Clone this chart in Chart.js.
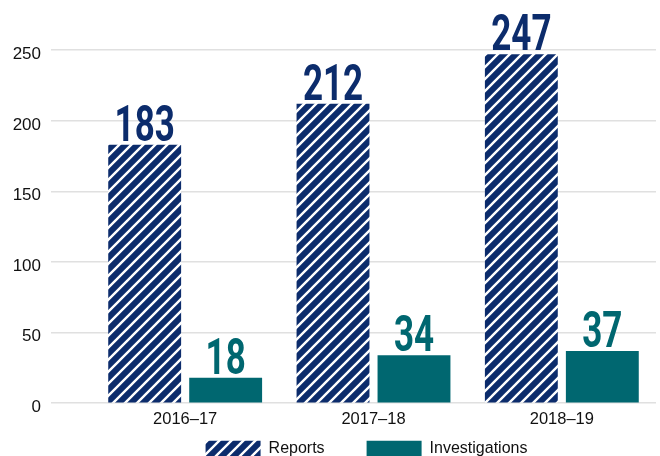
<!DOCTYPE html>
<html>
<head>
<meta charset="utf-8">
<script src="https://cdn.jsdelivr.net/npm/chart.js@4"></script>
<style>
  html, body { margin: 0; padding: 0; background: #fff; overflow: hidden; }
  #wrap { width: 660px; height: 503px; position: relative; }
</style>
</head>
<body>
<div id="wrap"><canvas id="chart"></canvas></div>
<script>
const years = ["2016–17", "2017–18", "2018–19"];
const reports = [183, 212, 247];
const investigations = [18, 34, 37];
const yTicks = [0, 50, 100, 150, 200, 250];

const NAVY = "#0c2c6c";
const TEAL = "#006770";
const FONT = "'Liberation Sans', Arial, sans-serif";
const LEGEND_PAD = 42;

function hatch() {
  const c = document.createElement("canvas");
  c.width = 12; c.height = 12;
  const g = c.getContext("2d");
  g.fillStyle = NAVY;
  g.fillRect(0, 0, 12, 12);
  g.strokeStyle = "#fff";
  g.lineWidth = 2.4;
  g.beginPath();
  g.moveTo(-1, 13); g.lineTo(13, -1);
  g.moveTo(-1, 1); g.lineTo(1, -1);
  g.moveTo(11, 13); g.lineTo(13, 11);
  g.stroke();
  return g.createPattern(c, "repeat");
}

// big condensed numbers above the bars
const valueLabels = {
  id: "valueLabels",
  afterDatasetsDraw(chart) {
    const ctx = chart.ctx;
    chart.data.datasets.forEach((ds, i) => {
      chart.getDatasetMeta(i).data.forEach((bar, j) => {
        ctx.save();
        ctx.translate(bar.x, bar.y - 4);
        ctx.scale(0.7, 1);
        ctx.font = "700 50px Roboto, sans-serif";
        ctx.fillStyle = ds.labelColor;
        ctx.textAlign = "center";
        ctx.textBaseline = "alphabetic";
        ctx.fillText(String(ds.data[j]), 0, 0);
        ctx.restore();
      });
    });
  },
};

// legend sits tight under the axis labels, the wide label padding is only for spacing
const legendNudge = {
  id: "legendNudge",
  afterLayout(chart) {
    const lg = chart.legend;
    const dy = lg.top - (chart.chartArea.bottom + 37.5 - LEGEND_PAD);
    lg.top -= dy; lg.bottom -= dy;
    lg.left -= 7; lg.right -= 7;
  },
};

new Chart(document.getElementById("chart"), {
  type: "bar",
  data: {
    labels: years,
    datasets: [
      { label: "Reports", data: reports, backgroundColor: hatch(), labelColor: NAVY },
      { label: "Investigations", data: investigations, backgroundColor: TEAL, labelColor: TEAL },
    ],
  },
  options: {
    responsive: true,
    maintainAspectRatio: false,
    animation: false,
    categoryPercentage: 0.86,
    barPercentage: 0.9,
    layout: { padding: { top: 50, right: 4, left: 0, bottom: 0 } },
    plugins: {
      tooltip: { enabled: false },
      legend: {
        position: "bottom",
        fullSize: false,
        labels: {
          font: { family: FONT, size: 16 },
          color: "#111",
          boxWidth: 55,
          boxHeight: 16,
          padding: LEGEND_PAD,
        },
      },
    },
    scales: {
      x: {
        grid: { display: false, drawTicks: false },
        border: { display: false },
        ticks: { font: { family: FONT, size: 16.5 }, color: "#111", padding: 6 },
      },
      y: {
        min: 0,
        max: 250,
        afterBuildTicks: (s) => { s.ticks = yTicks.map((v) => ({ value: v })); },
        grid: { color: "#e0e0e0", lineWidth: 1.5, tickLength: 40 },
        border: { display: false },
        // empty first line pushes the number a few px below its grid line
        ticks: {
          font: { family: FONT, size: 17, lineHeight: 0.5 },
          color: "#111",
          padding: 10,
          callback: (v) => ["", String(v)],
        },
        afterFit: (s) => { s.width = 91; },
      },
    },
  },
  plugins: [valueLabels, legendNudge],
});
</script>
</body>
</html>
